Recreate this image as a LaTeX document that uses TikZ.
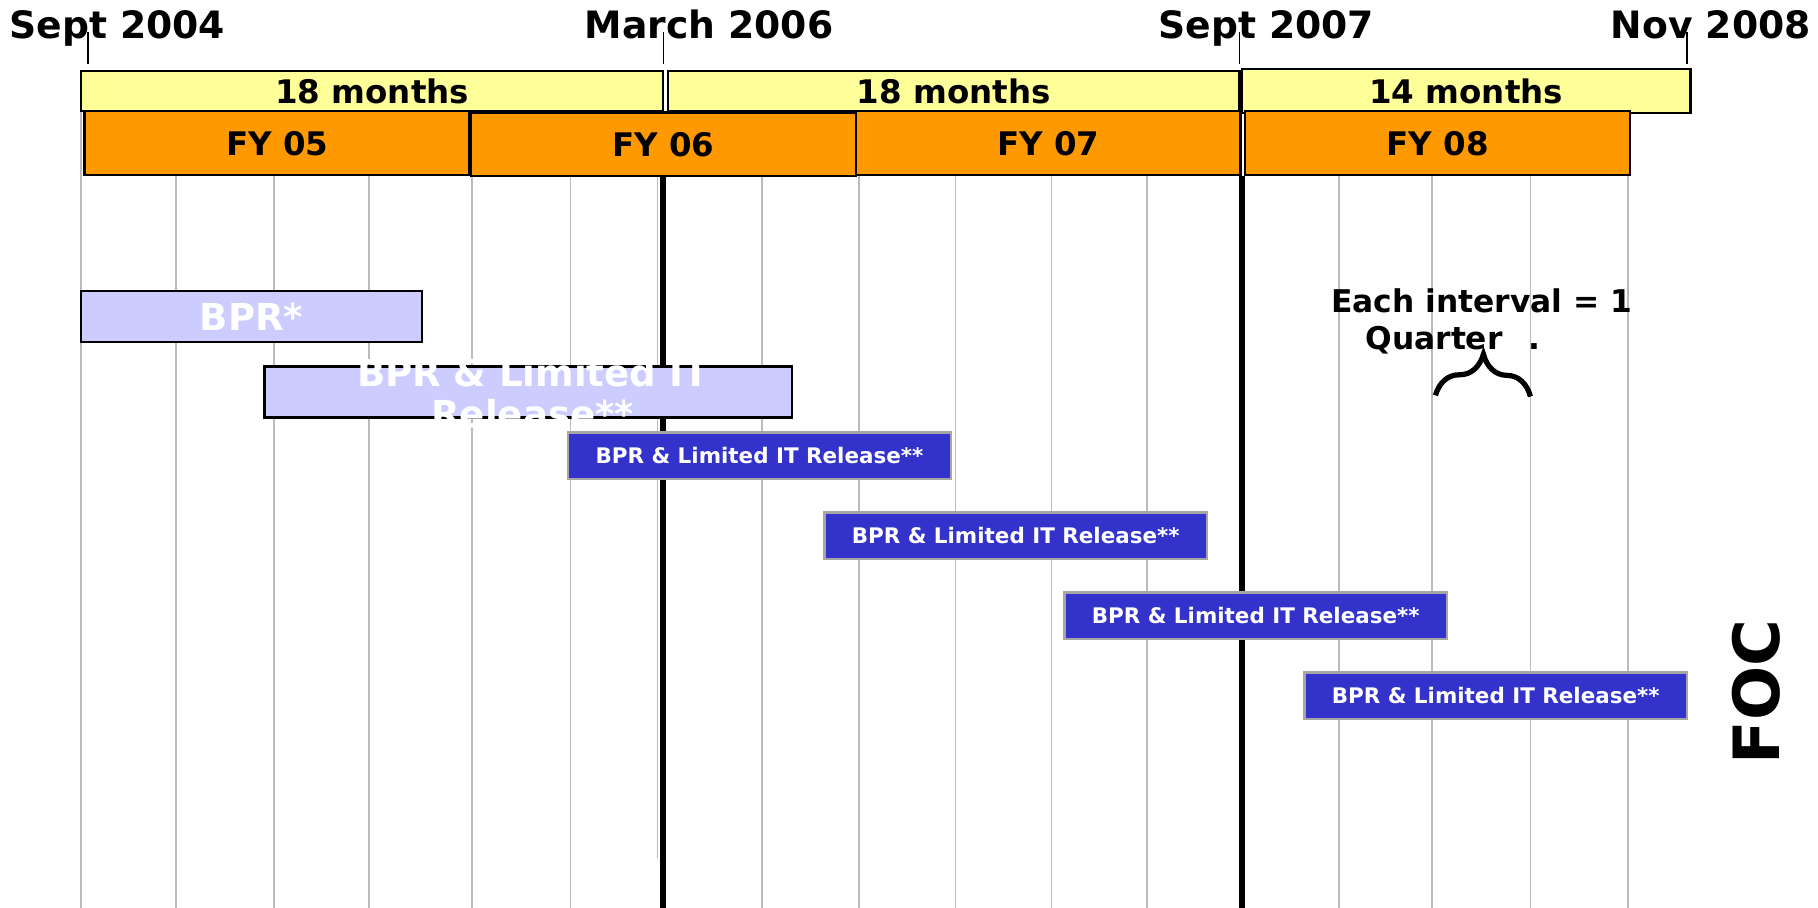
\documentclass[tikz,border=0pt]{standalone}
\usepackage{fontspec}
\setmainfont{DejaVu Sans}
\usetikzlibrary{positioning, calc, decorations.pathreplacing}

\definecolor{spanyellow}{HTML}{FFFF99}
\definecolor{fyorange}{HTML}{FF9900}
\definecolor{phaselav}{HTML}{CCCCFF}
\definecolor{releaseblue}{HTML}{3333CC}
\definecolor{gridgray}{HTML}{BBBBBB}
\definecolor{edgegray}{HTML}{A6A6A6}

\begin{document}
\begin{tikzpicture}[
    x=1pt, y=-1pt,
    node distance=0pt,
    datelabel/.style={
        anchor=base west,
        inner sep=0pt,
        font=\bfseries\fontsize{32.5}{38}\selectfont
    },
    datetick/.style={
        line width=1.2pt
    },
    span/.style={
        rectangle,
        draw,
        line width=2pt,
        fill=spanyellow,
        minimum height=35pt,
        inner sep=0pt,
        outer sep=0pt,
        font=\bfseries\fontsize{28}{32}\selectfont
    },
    fiscal/.style={
        rectangle,
        draw,
        line width=2pt,
        fill=fyorange,
        minimum width=332pt,
        minimum height=55pt,
        inner sep=0pt,
        outer sep=0pt,
        font=\bfseries\fontsize{28}{32}\selectfont
    },
    phase/.style={
        rectangle,
        draw,
        line width=2pt,
        fill=phaselav,
        minimum height=44pt,
        inner sep=0pt,
        outer sep=0pt,
        text=white,
        font=\bfseries\fontsize{32}{35}\selectfont
    },
    phasetext/.style={
        inner sep=0pt,
        align=center,
        text=white,
        font=\bfseries\fontsize{32}{35}\selectfont
    },
    release/.style={
        rectangle,
        draw=edgegray,
        line width=2pt,
        fill=releaseblue,
        minimum width=330pt,
        minimum height=40pt,
        inner sep=0pt,
        outer sep=0pt,
        anchor=north west,
        text=white,
        font=\bfseries\fontsize{18.5}{22}\selectfont
    },
    gridline/.style={
        gridgray,
        line width=1.5pt
    },
    milestone/.style={
        line width=5pt
    }
]

    \useasboundingbox (0,0) rectangle (1568,783);

    % Quarter grid
    \foreach \qx in {152, 236, 318, 407, 492, 657, 741, 824, 907, 989, 1155, 1235, 1320, 1404}
        \draw[gridline] (\qx,151) -- (\qx,783);
    \draw[gridline] (70,96) -- (70,783);
    \draw[gridline] (567,151) -- (567,740);

    % Milestones
    \draw[milestone] (572,153) -- (572,783);
    \draw[milestone] (1071,152) -- (1071,783);

    % Dates
    \node[datelabel] (d2004) at (8,33) {Sept 2004};
    \node[datelabel] (d2006) at (504,33) {March 2006};
    \node[datelabel] (d2007) at (999,33) {Sept 2007};
    \node[datelabel] (d2008) at (1389,33) {Nov 2008};
    \draw[datetick] (76,28) -- (76,55);
    \draw[datetick] (572,28) -- (572,55);
    \draw[datetick] (1069,28) -- (1069,55);
    \draw[datetick] (1455,28) -- (1455,55);

    % Spans
    \node[span, minimum width=502pt, anchor=north west] (span1) at (70,61) {18 months};
    \node[span, minimum width=493pt, right=4pt of span1] (span2) {18 months};
    \node[span, minimum width=387pt, minimum height=38pt, right=2pt of span2] (span3) {14 months};

    % Fiscal years
    \node[fiscal, anchor=north west] (fy05) at (73,96) {FY 05};
    \node[fiscal, right=1pt of fy05, yshift=-1pt] (fy06) {FY 06};
    \node[fiscal, right=0pt of fy06, yshift=1pt] (fy07) {FY 07};
    \node[fiscal, right=4pt of fy07] (fy08) {FY 08};

    % Phases
    \node[phase, minimum width=294pt, anchor=north west] (bpr) at (70,251) {BPR*};
    \node[phase, minimum width=455pt, anchor=north west] (bprit) at (228,316) {};
    \node[phasetext] (bpritlabel) at ($(bprit.center)+(4,1)$) {BPR \& Limited IT\\Release**};

    % Releases
    \node[release] (rel1) at (490,373) {BPR \& Limited IT Release**};
    \node[release] (rel2) at (711,442) {BPR \& Limited IT Release**};
    \node[release] (rel3) at (918,511) {BPR \& Limited IT Release**};
    \node[release] (rel4) at (1125,580) {BPR \& Limited IT Release**};

    % Legend
    \node[align=center, inner sep=0pt, font=\bfseries\fontsize{27}{32}\selectfont] (interval) at (1278,277)
        {Each interval = 1\\Quarter\hspace{22pt}.\rule{50pt}{0pt}};
    \draw[line width=4.5pt, decorate, decoration={brace, amplitude=36pt}] (1238,341) -- (1320,342);

    \node[rotate=90, inner sep=0pt, font=\bfseries\fontsize{55}{60}\selectfont] (foc) at (1515,597) {FOC};

\end{tikzpicture}
\end{document}
